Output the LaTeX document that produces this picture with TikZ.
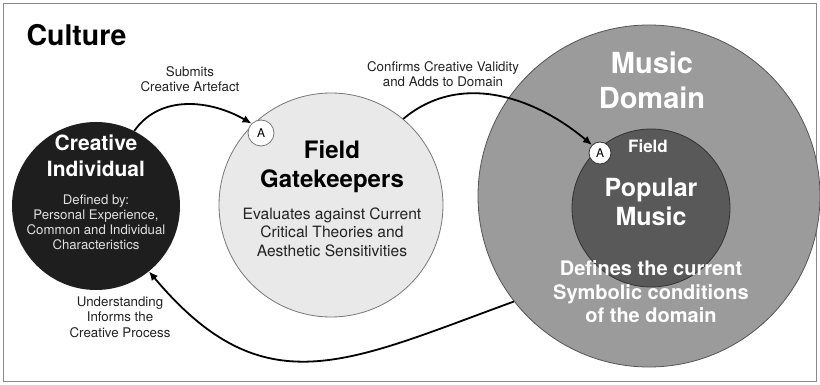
\documentclass[tikz,border=0pt]{standalone}
\usepackage{fontspec}
\setmainfont{TeX Gyre Heros}
\usetikzlibrary{arrows.meta}
\definecolor{framegray}{HTML}{8A8A8A}
\definecolor{cifill}{HTML}{1E1E1E}
\definecolor{fgfill}{HTML}{E9E9E9}
\definecolor{fgline}{HTML}{777777}
\definecolor{mdfill}{HTML}{9B9B9B}
\definecolor{mdline}{HTML}{555555}
\definecolor{pmfill}{HTML}{595959}
\definecolor{pmline}{HTML}{333333}
\definecolor{lbl}{HTML}{222222}
\tikzset{
  bigcirc/.style={circle, inner sep=0pt},
  acirc/.style={circle, draw=fgline, fill=white, inner sep=0pt, line width=0.8pt, font=\fontsize{12}{13}\selectfont},
  lbltext/.style={align=center, text=lbl, font=\fontsize{13.3}{15.5}\selectfont},
  flow/.style={line width=1.8pt, -{Latex[length=9pt,width=8pt]}, black},
}
\begin{document}
\begin{tikzpicture}[x=1pt,y=1pt]
\useasboundingbox (0,0) rectangle (820,-385);
\draw[framegray, line width=1.5pt] (3.5,-3.5) rectangle (816.5,-381.5);

% circles
\node[bigcirc, fill=cifill, minimum size=168pt] (ci) at (96,-206) {};
\node[bigcirc, fill=fgfill, draw=fgline, line width=0.8pt, minimum size=224pt] (fg) at (331,-205) {};
\node[bigcirc, fill=mdfill, draw=mdline, line width=0.8pt, minimum size=342pt] (md) at (649,-196) {};
\node[bigcirc, fill=pmfill, draw=pmline, line width=0.8pt, minimum size=158pt] (pm) at (651,-208) {};
\node[acirc, minimum size=26pt] (fgA) at (261,-133) {A};
\node[acirc, draw=pmline, minimum size=22pt] (mdA) at (600,-153) {A};

% titles
\node[anchor=west, font=\fontsize{28.5}{32}\selectfont\bfseries] (culture) at (23,-35) {Culture};

% creative individual
\node[align=center, text=white, font=\fontsize{21}{26}\selectfont\bfseries] (citit) at (96,-156) {Creative\\Individual};
\node[align=center, text=white!88!black, font=\fontsize{13.2}{15}\selectfont] (citx) at (96,-222) {Defined by:\\Personal Experience,\\Common and Individual\\Characteristics};

% field gatekeepers
\node[align=center, text=black, font=\fontsize{24}{29}\selectfont\bfseries] (fgtit) at (332,-167) {Field\\Gatekeepers};
\node[align=center, text=lbl, font=\fontsize{15.6}{18.5}\selectfont] (fgtx) at (332,-232) {Evaluates against Current\\Critical Theories and\\Aesthetic Sensitivities};

% music domain
\node[align=center, text=white, font=\fontsize{29}{35}\selectfont\bfseries] (mdtit) at (652,-80) {Music\\Domain};
\node[text=white, font=\fontsize{17}{18}\selectfont\bfseries] (fieldl) at (648,-146) {Field};
\node[align=center, text=white, font=\fontsize{25}{29}\selectfont\bfseries] (pmtit) at (651,-202) {Popular\\Music};
\node[align=center, text=white, font=\fontsize{20}{23.5}\selectfont\bfseries] (mdtx) at (651,-292) {Defines the current\\Symbolic conditions\\of the domain};

% labels
\node[lbltext] (l1) at (190,-79) {Submits\\Creative Artefact};
\node[lbltext] (l2) at (443,-74) {Confirms Creative Validity\\and Adds to Domain};
\node[lbltext] (l3) at (120,-317) {Understanding\\Informs the\\Creative Process};

% connectors
\draw[flow] (ci.63) to[out=55, in=150] (fgA.135);
\draw[flow] (fg.50) to[out=40, in=140] (mdA.135);
\draw[flow] (md.218) to[out=200, in=-50, looseness=1.25] (ci.-51);
\end{tikzpicture}
\end{document}
